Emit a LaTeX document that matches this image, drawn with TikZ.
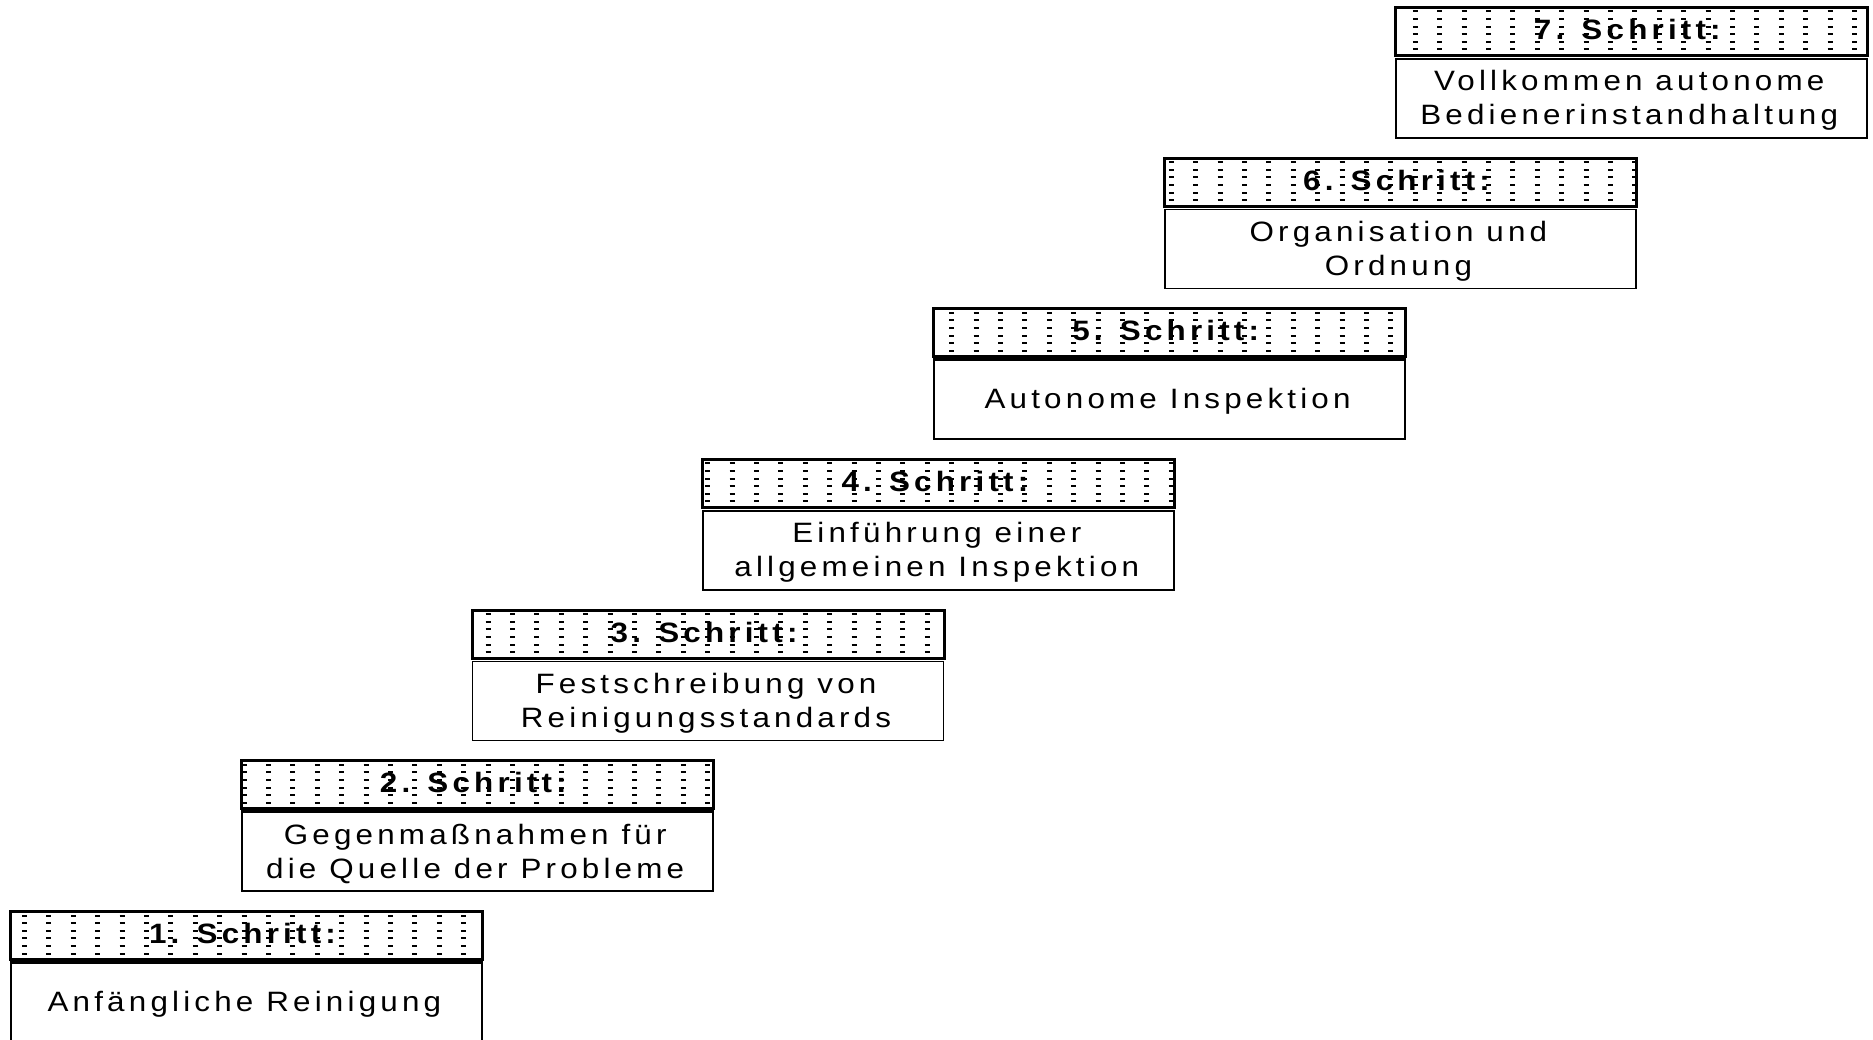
\documentclass[tikz,border=0pt]{standalone}
\usepackage{fontspec}
\newfontfamily\stepfam{Liberation Sans}[LetterSpace=15, FakeStretch=1.12]
\newcommand\bodyfont{\stepfam\fontsize{28}{34}\selectfont}
\newcommand\headfont{\stepfam\bfseries\fontsize{28}{34}\selectfont}

\begin{document}
\begin{tikzpicture}[x=1pt,y=-1pt,
  headbox/.style={draw=black, line width=2pt, minimum width=471pt,
    minimum height=47pt, anchor=north west, inner sep=0pt, fill=white},
  bodybox/.style={draw=black, line width=1.8pt, minimum width=471pt,
    minimum height=79pt, anchor=north west, inner sep=0pt, fill=white},
  headtext/.style={font=\headfont, text=black, inner sep=0pt},
  bodytext/.style={font=\bodyfont, text=black, align=center, inner sep=0pt},
  dotdash/.style={draw=black, line width=2pt}]
\useasboundingbox (0,0) rectangle (1873,1039);
\clip (0,0) rectangle (1873,1039);

\foreach \i/\n/\txt in {
  0/1/{Anfängliche Reinigung},
  1/2/{Gegenmaßnahmen für\\die Quelle der Probleme},
  2/3/{Festschreibung von\\Reinigungsstandards},
  3/4/{Einführung einer\\allgemeinen Inspektion},
  4/5/{Autonome Inspektion},
  5/6/{Organisation und\\Ordnung},
  6/7/{Vollkommen autonome\\Bedienerinstandhaltung}} {
  \pgfmathsetmacro\L{10+230.8*\i}
  \pgfmathsetmacro\T{911-150.67*\i}
  % header strip with dotted hatching
  \node[headbox] (h\n) at (\L,\T) {};
  \begin{scope}
    \clip (h\n.north west) rectangle (h\n.south east);
    \foreach \k in {0,...,76} {
      \foreach \j in {0,...,5} {
        \draw[dotdash] (22+24.4*\k,\T+4.5+7.6*\j) -- ++(5,0);
      }
    }
  \end{scope}
  \draw[line width=2pt] (h\n.north west) rectangle (h\n.south east);
  \draw[line width=3pt] (h\n.south west) -- (h\n.south east);
  \node[headtext] (ht\n) at ([xshift=-4pt,yshift=2pt]h\n.center) {\n. Schritt:};
  % description box
  \node[bodybox] (b\n) at (\L,\T+51) {};
  \node[bodytext] (bt\n) at ([xshift=-2pt,yshift=-2pt]b\n.center) {\txt};
}
\end{tikzpicture}
\end{document}
